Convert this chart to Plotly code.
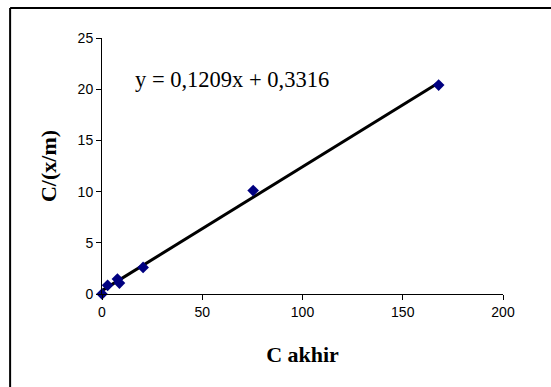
import plotly.graph_objects as go

x_vals = [0, 2.8, 7.7, 8.7, 20.5, 75.4, 167.9]
y_vals = [0, 0.85, 1.46, 1.07, 2.6, 10.1, 20.4]
slope = 0.1209
intercept = 0.3316
x_ticks = [0, 50, 100, 150, 200]
y_ticks = [0, 5, 10, 15, 20, 25]

fit_x = [min(x_vals), max(x_vals)]
fit_y = [slope * v + intercept for v in fit_x]

W, H = 560, 400
L, T = 101.5, 38
R = W - 503
B = H - 294.5
pw = W - L - R
ph = H - T - B

def px(fx):
    return (fx - L) / pw

def py(fy):
    return (H - B - fy) / ph

fig = go.Figure()
fig.add_trace(go.Scatter(x=fit_x, y=fit_y, mode="lines",
                         line=dict(color="black", width=3), showlegend=False))
fig.add_trace(go.Scatter(x=x_vals, y=y_vals, mode="markers",
                         marker=dict(symbol="diamond", color="#000080", size=9),
                         showlegend=False, cliponaxis=False))

serif = "Liberation Serif, Times New Roman, serif"
fig.update_layout(
    width=W, height=H,
    margin=dict(l=L, r=R, t=T, b=B),
    paper_bgcolor="white", plot_bgcolor="white",
    font=dict(family="Liberation Sans, Arial", size=14, color="black"),
    xaxis=dict(range=[0, 200], tickvals=x_ticks, showgrid=False, zeroline=False,
               showline=True, linecolor="black", linewidth=1,
               ticks="outside", ticklen=5, tickwidth=1, tickcolor="black",
               title=dict(text="<b>C akhir</b>", font=dict(family=serif, size=22), standoff=27)),
    yaxis=dict(range=[0, 25], tickvals=y_ticks, showgrid=False, zeroline=False,
               showline=True, linecolor="black", linewidth=1,
               ticks="outside", ticklen=5, tickwidth=1, tickcolor="black",
               title=dict(text="<b>C/(x/m)</b>", font=dict(family=serif, size=22), standoff=14)),
    shapes=[
        dict(type="line", xref="paper", yref="paper",
             x0=px(9.5), x1=px(W), y0=py(8), y1=py(8),
             line=dict(color="black", width=2), layer="below"),
        dict(type="line", xref="paper", yref="paper",
             x0=px(9.5), x1=px(9.5), y0=py(H), y1=py(8),
             line=dict(color="black", width=2), layer="below"),
    ],
    annotations=[dict(text="y = 0,1209x + 0,3316", xref="paper", yref="paper",
                      x=px(133), y=py(80),
                      xanchor="left", yanchor="middle", showarrow=False,
                      font=dict(family=serif, size=22.5, color="black"))],
)

fig.write_html(
    "out.html",
    config={"displayModeBar": False},
    post_script=(
        "document.documentElement.style.overflow='hidden';"
        "document.body.style.margin='0';"
        "document.body.style.overflow='hidden';"
        "document.body.style.background='white';"
    ),
)
